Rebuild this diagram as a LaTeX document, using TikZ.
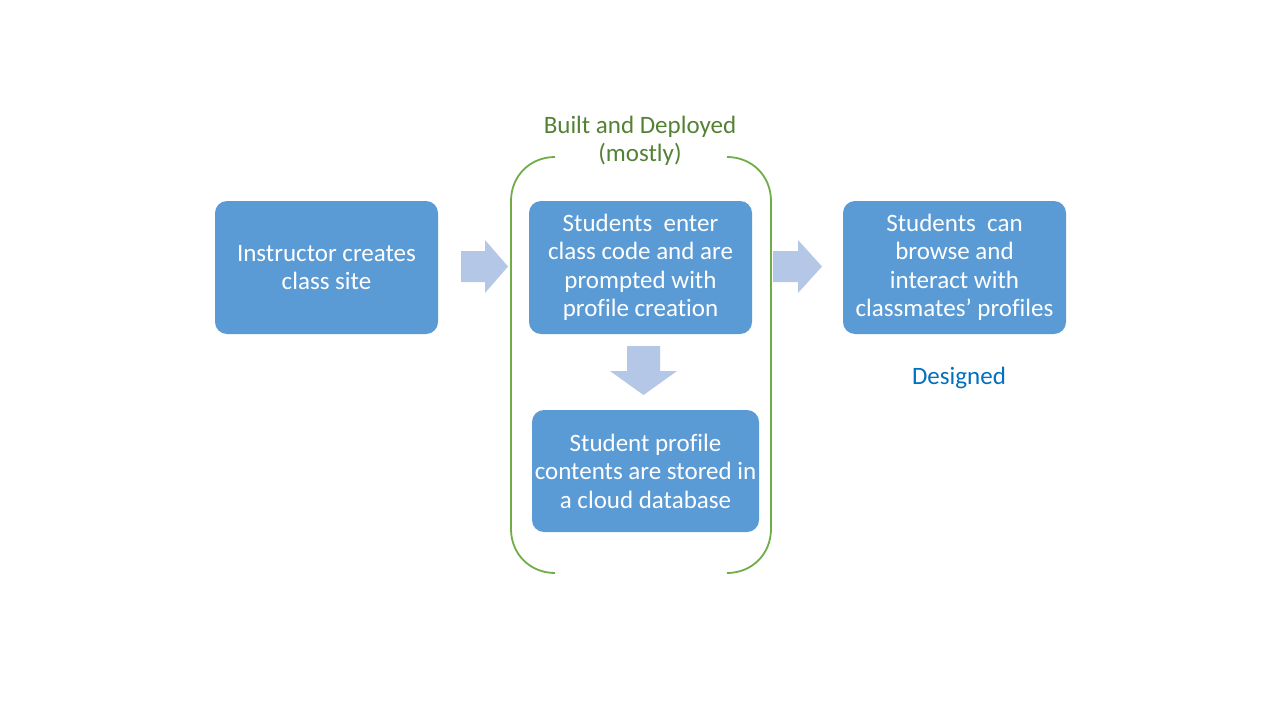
\documentclass[tikz,border=0pt]{standalone}
\usepackage{fontspec}
\setmainfont{Carlito}[Ligatures=NoCommon]
\definecolor{boxblue}{HTML}{5B9BD5}
\definecolor{arrowblue}{HTML}{B4C7E7}
\definecolor{brgreen}{HTML}{70AD47}
\definecolor{txtgreen}{HTML}{548235}
\definecolor{txtblue}{HTML}{0070C0}
\begin{document}
\begin{tikzpicture}[x=1pt,y=-1pt,
  stepbox/.style={fill=boxblue,rounded corners=12pt,text=white,align=center,
    inner sep=0pt,font=\fontsize{25}{28.5}\selectfont},
  lbl/.style={align=center,font=\fontsize{25}{28.5}\selectfont}]
\useasboundingbox (0,0) rectangle (1280,720);
\fill[white] (0,0) rectangle (1280,720);
% boxes
\node[stepbox,minimum width=223pt,minimum height=133pt] (b1) at (326.5,267.5) {Instructor creates\\class site};
\node[stepbox,minimum width=223pt,minimum height=133pt] (b2) at (640.5,267.5) {Students\ \ enter\\class code and are\\prompted with\\profile creation};
\node[stepbox,minimum width=223pt,minimum height=133pt] (b3) at (954.5,267.5) {Students\ \ can\\browse and\\interact with\\classmates’ profiles};
\node[stepbox,minimum width=227pt,minimum height=122pt] (b4) at (645.5,471) {Student profile\\contents are stored in\\a cloud database};
% block arrows
\fill[arrowblue] (461,251) -- (485,251) -- (485,240) -- (508,266.5) -- (485,293) -- (485,282) -- (461,282) -- cycle;
\fill[arrowblue] (773,251) -- (798,251) -- (798,240) -- (822,266.5) -- (798,293) -- (798,282) -- (773,282) -- cycle;
\fill[arrowblue] (627,346) -- (660,346) -- (660,371) -- (677,371) -- (643.5,395) -- (610,371) -- (627,371) -- cycle;
% brackets
\draw[brgreen,line width=1.8pt] (555,157) .. controls (530,157) and (511,176) .. (511,201) -- (511,529) .. controls (511,554) and (530,573) .. (555,573);
\draw[brgreen,line width=1.8pt] (727,157) .. controls (752,157) and (771,176) .. (771,201) -- (771,529) .. controls (771,554) and (752,573) .. (727,573);
% labels
\node[lbl,text=txtgreen] (built) at (640,141) {Built and Deployed\\(mostly)};
\node[lbl,text=txtblue] (des) at (959,378) {Designed};
\end{tikzpicture}
\end{document}
